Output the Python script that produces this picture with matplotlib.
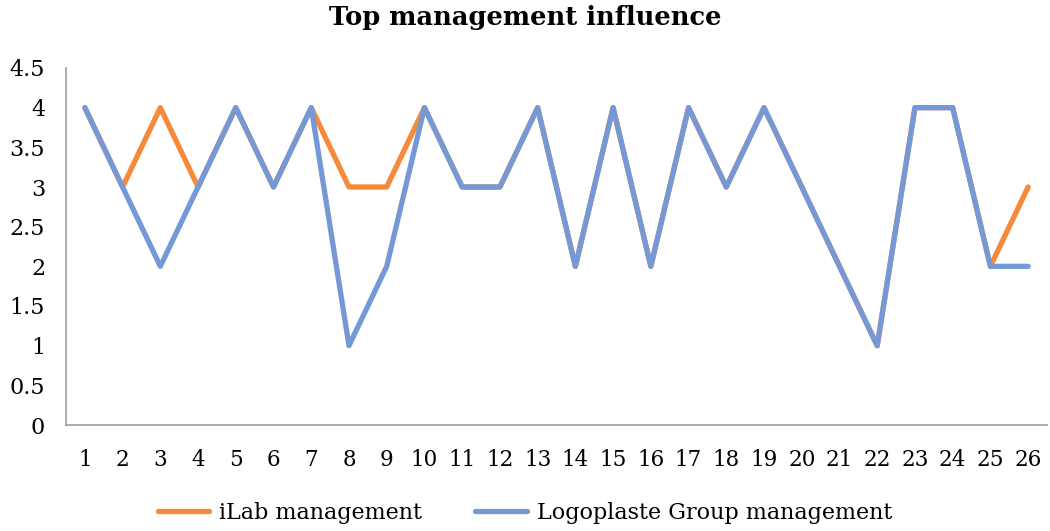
import matplotlib.pyplot as plt

# ======================================
# DATA
# ======================================

items = list(range(1, 27))

ilab = [4, 3, 4, 3, 4, 3, 4, 3, 3, 4, 3, 3, 4, 2, 4, 2, 4, 3, 4, 3, 2, 1, 4, 4, 2, 3]
logoplaste = [4, 3, 2, 3, 4, 3, 4, 1, 2, 4, 3, 3, 4, 2, 4, 2, 4, 3, 4, 3, 2, 1, 4, 4, 2, 2]

y_ticks = [0, 0.5, 1, 1.5, 2, 2.5, 3, 3.5, 4, 4.5]
y_labels = ["0", "0.5", "1", "1.5", "2", "2.5", "3", "3.5", "4", "4.5"]

# ======================================
# PLOT
# ======================================

plt.rcParams["font.family"] = ["DejaVu Serif"]

fig = plt.figure(figsize=(10.5, 5.31), dpi=100)
ax = fig.add_axes([66 / 1050, 1 - 425 / 531, (1047 - 66) / 1050, (425 - 68) / 531])

ax.plot(items, ilab, color="#F68A3A", lw=3.8, label="iLab management", solid_capstyle="round")
ax.plot(items, logoplaste, color="#7598D6", lw=3.8, label="Logoplaste Group management",
        solid_capstyle="round")

ax.set_xlim(0.5, 26.5)
ax.set_ylim(0, 4.5)
ax.set_xticks(items)
ax.set_xticklabels([str(i) for i in items])
ax.set_yticks(y_ticks)
ax.set_yticklabels(y_labels)
ax.tick_params(axis="both", length=0, colors="black")
ax.tick_params(axis="x", pad=17, labelsize=15.5)
ax.tick_params(axis="y", pad=15, labelsize=16)

for side in ["top", "right"]:
    ax.spines[side].set_visible(False)
for side in ["left", "bottom"]:
    ax.spines[side].set_color("#A0A0A0")
    ax.spines[side].set_linewidth(1.2)

fig.suptitle("Top management influence", fontsize=18.5, fontweight="bold", y=0.99)

fig.legend(loc="lower center", ncol=2, frameon=False, fontsize=16,
           bbox_to_anchor=(0.5, -0.025), handlelength=2.3, handletextpad=0.45,
           columnspacing=2.4)

fig.savefig("out.png", dpi=100)
